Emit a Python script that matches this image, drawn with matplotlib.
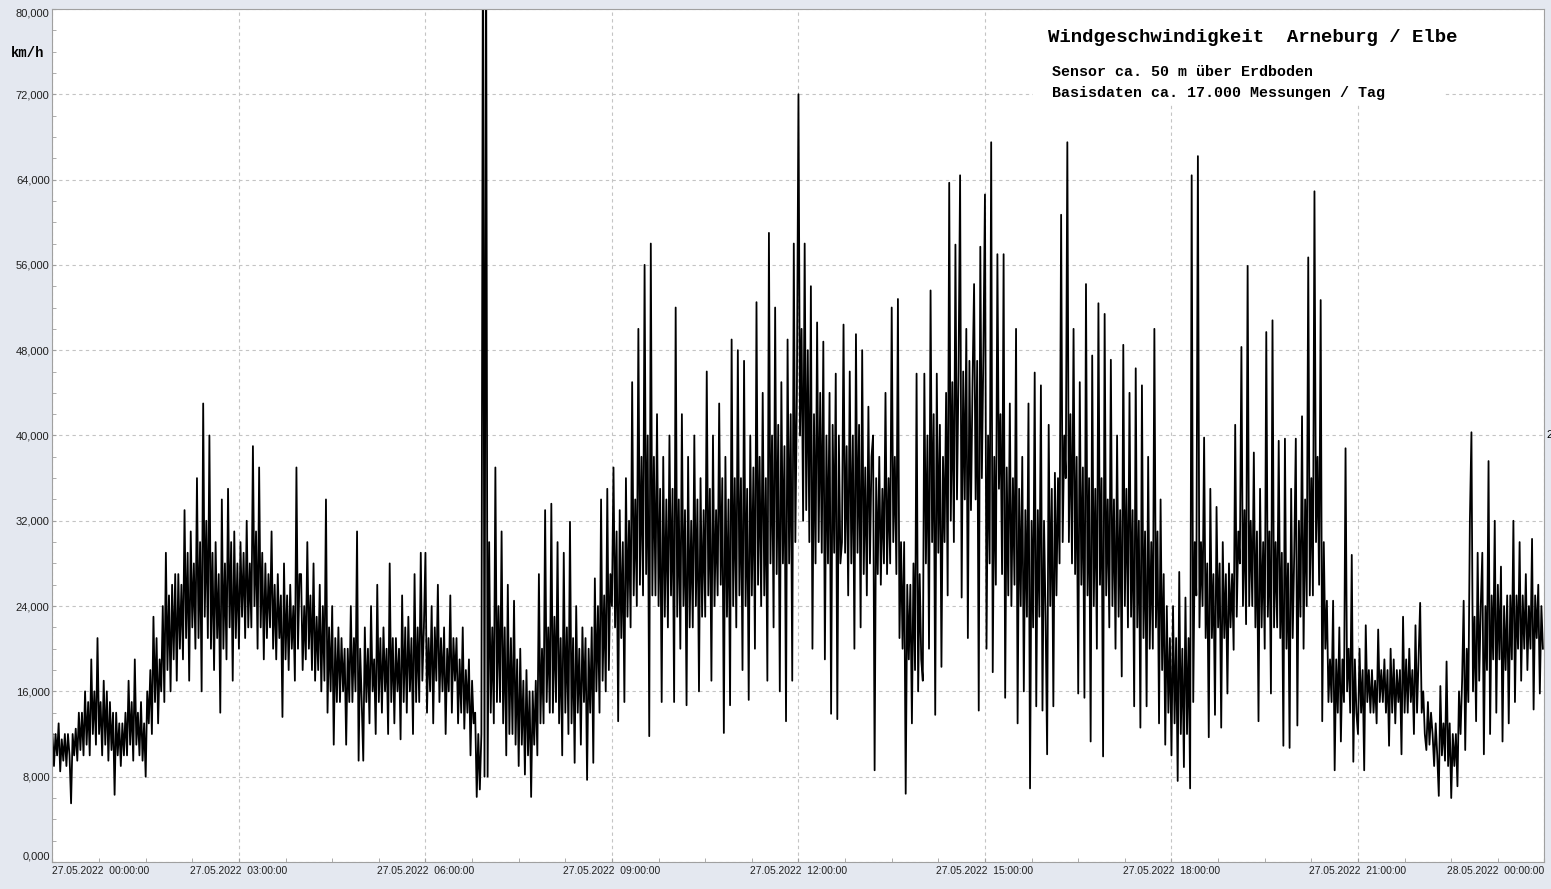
import numpy as np
import matplotlib.pyplot as plt
from matplotlib.patches import Rectangle

# Windgeschwindigkeit in km/h, 40 Werte pro Stunde
h00 = [12, 9, 12, 10, 13, 8.5, 11.5, 9.5, 12, 9, 12, 10, 5.5, 12, 10, 12.5, 9.5, 14, 10.5, 14,
       10, 16, 11, 15, 10, 19, 12, 16, 11, 21, 12, 15, 10, 17, 11, 16, 9.5, 15, 10.5, 14]
h01 = [6.3, 14, 10, 13, 9, 13, 10, 14, 10, 17, 11, 15, 9.5, 19, 11, 14, 10, 15, 9.5, 13,
       8, 16, 13, 18, 12, 23, 15, 21, 13, 19, 16, 24, 15, 29, 18, 25, 16, 26, 19, 27]
h02 = [17, 27, 20, 26, 19, 33, 21, 29, 17, 31, 22, 28, 20, 36, 21, 30, 16, 43, 23, 32,
       21, 40, 20, 29, 18, 30, 21, 27, 14, 34, 20, 28, 19, 35, 22, 30, 17, 31, 21, 28]
h03 = [20, 30, 23, 29, 21, 32, 22, 28, 22, 39, 24, 31, 20, 37, 22, 29, 19, 28, 21, 27,
       22, 31, 20, 26, 19, 27, 21, 25, 13.6, 28, 19, 25, 18, 26, 20, 24, 17, 37, 20, 27]
h04 = [27, 18, 24, 19, 30, 20, 25, 18, 28, 17, 23, 18, 26, 16, 24, 17, 34, 14, 22, 16,
       24, 11, 21, 15, 22, 15, 21, 16, 20, 11, 20, 15, 24, 15, 21, 16, 31, 9.5, 20, 15]
h05 = [9.5, 22, 15, 20, 13, 24, 16, 19, 12, 26, 15, 21, 14, 22, 16, 20, 12, 28, 15, 21,
       13, 21, 16, 20, 11.5, 25, 15, 22, 14, 23, 16, 21, 12, 27, 15, 22, 15, 29, 17, 22]
h06 = [29, 14, 21, 16, 24, 13, 22, 17, 26, 15, 21, 16, 22, 12, 20, 16, 25, 14, 21, 17,
       21, 13, 19, 14, 22, 12.5, 18, 14, 19, 10, 17, 13, 14, 6.1, 12, 6.8, 12, 90, 8, 90]
h07 = [8, 30, 14, 22, 13, 37, 15, 24, 15, 31, 13, 22, 10, 26, 12, 21, 12, 24.5, 11, 19,
       9, 20, 11, 17, 8.2, 18, 10, 16, 6.1, 16, 11, 17, 10, 27, 13, 20, 13, 33, 15, 22]
h08 = [14, 33.6, 14, 23, 15, 30, 13, 21, 10, 29, 14, 22, 12, 31.9, 13, 21, 9.3, 24, 14, 20,
       11, 22, 15, 21, 7.7, 20, 14, 22, 9.3, 26.6, 16, 24, 14, 34, 17, 25, 16, 35, 18, 27]
h09 = [24, 37, 22, 31, 13.2, 33, 21, 30, 15, 36, 23, 32, 22, 45, 25, 34, 24, 50, 26, 38,
       25, 56, 27, 40, 11.8, 58, 25, 38, 25, 42, 24, 35, 15, 38, 23, 34, 22, 40, 25, 35]
h10 = [15, 52, 23, 34, 20, 42, 24, 33, 14.7, 38, 22, 32, 22, 40, 24, 34, 16, 36, 23, 33,
       23, 46, 25, 35, 17, 40, 24, 33, 25, 43, 26, 36, 12.1, 38, 23, 34, 14.7, 49, 24, 36]
h11 = [22, 48, 25, 36, 18, 47, 24, 35, 15.2, 40, 25, 37, 20, 52.5, 26, 38, 24, 44, 25, 36,
       17, 59, 28, 40, 22, 52, 27, 41, 16, 45, 28, 39, 13.2, 49, 28, 42, 17, 58, 30, 44]
h12 = [72, 40, 50, 32, 58, 33, 48, 30, 54, 20, 42, 28, 50.6, 30, 44, 29, 48.8, 19, 40, 28,
       44, 13.9, 41, 29, 45.8, 13.4, 40, 28, 30, 50.4, 29, 39, 25, 46, 28, 40, 20, 49.5, 29, 41]
h13 = [22, 48, 27, 37, 25, 42.7, 28, 38, 40, 8.6, 36, 27, 38, 26, 35, 28, 44, 27, 36, 28,
       52, 30, 38, 27, 52.8, 21, 30, 20, 30, 6.4, 26, 19, 26, 13, 28, 18, 45.8, 16, 27, 19]
h14 = [17, 45.8, 28, 40, 20, 53.6, 30, 42, 13.8, 45.8, 29, 41, 18.3, 38, 30, 44, 25, 63.7, 32, 45,
       30, 57.9, 34, 46, 64.4, 24.8, 46, 34, 50, 21, 47, 33, 45, 54.2, 34, 47, 14.2, 57.7, 36, 48]
h15 = [62.6, 20, 40, 28, 67.5, 17.8, 38, 26, 57, 35, 42, 27, 57, 15.4, 37, 25, 43, 24, 36, 26,
       50, 13, 35, 24, 38, 16, 33, 23, 43, 6.9, 32, 22, 45.9, 14.6, 33, 23, 44.7, 14.2, 32, 23]
h16 = [10.1, 41, 24, 35, 14.6, 36.5, 25, 36, 28, 60.7, 30, 40, 36, 67.5, 30, 42, 28, 50, 27, 38,
       15.8, 45, 26, 37, 15.4, 54.2, 25, 36, 11.3, 47.5, 24, 35, 20, 52.4, 26, 36, 9.9, 51.4, 25, 34]
h17 = [22, 47.1, 24, 34, 20, 40, 23, 33, 17.4, 48.5, 24, 35, 22, 44, 23, 33, 14.6, 46.3, 22, 32,
       12.6, 44.7, 21, 31, 14.6, 38, 20, 30, 20, 50, 22, 31, 13, 34, 18, 27, 11, 24, 14, 21]
h18 = [10, 24, 13, 21, 7.6, 27.2, 12, 20, 8.9, 24.8, 12, 21, 6.9, 64.4, 15, 30, 25, 66.2, 22, 30,
       24, 39.8, 21, 28, 11.7, 35, 21, 27, 13.8, 33.3, 22, 28, 12.6, 30, 21, 27, 15.8, 28, 22, 27]
h19 = [19.9, 41, 23, 31, 28, 48.3, 24, 33, 22.3, 55.9, 24, 32, 24, 38.4, 22, 31, 13.2, 35, 22, 30,
       20, 49.7, 23, 31, 15.8, 50.8, 22, 30, 22, 39.5, 21, 29, 10.9, 39.7, 20, 28, 10.7, 35, 21, 29]
h20 = [39.7, 12.8, 32, 23, 41.8, 20, 34, 24, 56.7, 25, 36, 25, 62.9, 30, 38, 26, 52.7, 13.2, 30, 20,
       24.5, 15, 19, 15, 24.5, 8.6, 19, 14, 22, 11.3, 19, 15, 38.8, 16, 20, 14, 28.8, 9.4, 19, 14]
h21 = [12, 20, 14, 18, 8.6, 22.2, 15, 18, 14, 18, 14, 17, 13, 21.8, 15, 18, 15, 19, 14, 18,
       10.9, 20, 14, 19, 13, 18, 15, 18, 10.1, 23, 14, 19, 14, 20, 15, 18, 12, 22.2, 14, 19]
h22 = [24.3, 14, 16, 12, 10.5, 15, 11, 14, 12, 9, 13, 10, 6.2, 16.5, 10, 13, 9.5, 18.8, 9, 13,
       6, 12, 9, 12, 7.1, 16, 12, 17, 24.5, 10.5, 20, 15, 32, 40.3, 16, 23, 13.2, 29, 17, 24]
h23 = [29, 10.1, 24, 18, 37.6, 12, 25, 19, 32, 14, 26, 19, 27.7, 11.3, 24, 18, 25, 13, 25, 19,
       32, 15, 25, 20, 30, 17, 25, 20, 27, 18, 24, 20, 30.3, 14.3, 25, 21, 26, 15.8, 24, 20]

x_labels = ['27.05.2022  00:00:00', '27.05.2022  03:00:00', '27.05.2022  06:00:00',
            '27.05.2022  09:00:00', '27.05.2022  12:00:00', '27.05.2022  15:00:00',
            '27.05.2022  18:00:00', '27.05.2022  21:00:00', '28.05.2022  00:00:00']
y_ticks = [0, 8, 16, 24, 32, 40, 48, 56, 64, 72, 80]

per_hour = [h00, h01, h02, h03, h04, h05, h06, h07, h08, h09, h10, h11,
            h12, h13, h14, h15, h16, h17, h18, h19, h20, h21, h22, h23]
hours = np.concatenate([h + np.arange(len(v)) / len(v) for h, v in enumerate(per_hour)])
speed = np.concatenate([np.array(v, dtype=float) for v in per_hour])

bg = '#e4e8f0'
fig = plt.figure(figsize=(15.51, 8.89), dpi=100, facecolor=bg)
ax = fig.add_axes([0.0338, 0.0304, 0.9620, 0.9595])

ax.plot(hours, speed, color='black', lw=1.3, zorder=2)

ax.set_xlim(0, 24)
ax.set_ylim(0, 80)

ax.set_xticks(range(0, 25, 3))
ax.set_xticklabels(x_labels, fontsize=7.4, family='Liberation Sans')
ax.set_xticks(np.arange(0, 24.01, 0.75), minor=True)
xl = ax.get_xticklabels()
xl[0].set_ha('left')
xl[-1].set_ha('right')

ax.set_yticks(y_ticks)
ax.set_yticklabels([f'{v:.3f}'.replace('.', ',') for v in y_ticks], fontsize=8, family='Liberation Sans')
ax.set_yticks(np.arange(0, 80.1, 2), minor=True)
yl = ax.get_yticklabels()
yl[0].set_va('bottom')
yl[-1].set_va('top')

ax.tick_params(which='both', direction='in', length=3, color='#a0a0a0', labelcolor='#202020')
ax.tick_params(axis='x', which='major', pad=3)
ax.tick_params(axis='y', which='major', pad=2)

ax.grid(True, which='major', color='#c4c4c4', linestyle=(0, (3, 3)), lw=0.8)
for s in ax.spines.values():
    s.set_color('#a0a0a0')

# weisser Kasten hinter der Beschriftung
ax.add_patch(Rectangle((0.657, 0.89), 0.276, 0.1065, transform=ax.transAxes,
                       facecolor='white', edgecolor='none', zorder=1.6))

mono = 'Liberation Mono'
ax.text(0.6675, 0.967, 'Windgeschwindigkeit  Arneburg / Elbe', transform=ax.transAxes,
        family=mono, fontweight='bold', fontsize=13.7, va='center', ha='left', zorder=3)
ax.text(0.670, 0.926, 'Sensor ca. 50 m über Erdboden', transform=ax.transAxes,
        family=mono, fontweight='bold', fontsize=10.8, va='center', ha='left', zorder=3)
ax.text(0.670, 0.9015, 'Basisdaten ca. 17.000 Messungen / Tag', transform=ax.transAxes,
        family=mono, fontweight='bold', fontsize=10.8, va='center', ha='left', zorder=3)

fig.text(28 / 1551, 1 - 53 / 889, 'km/h', family=mono, fontweight='bold', fontsize=10,
         ha='center', va='center')
ax.text(1.0015, 40, '2', transform=ax.get_yaxis_transform(), fontsize=8,
        family='Liberation Sans', ha='left', va='center', clip_on=False)

plt.savefig('out.png', dpi=100, facecolor=bg)
